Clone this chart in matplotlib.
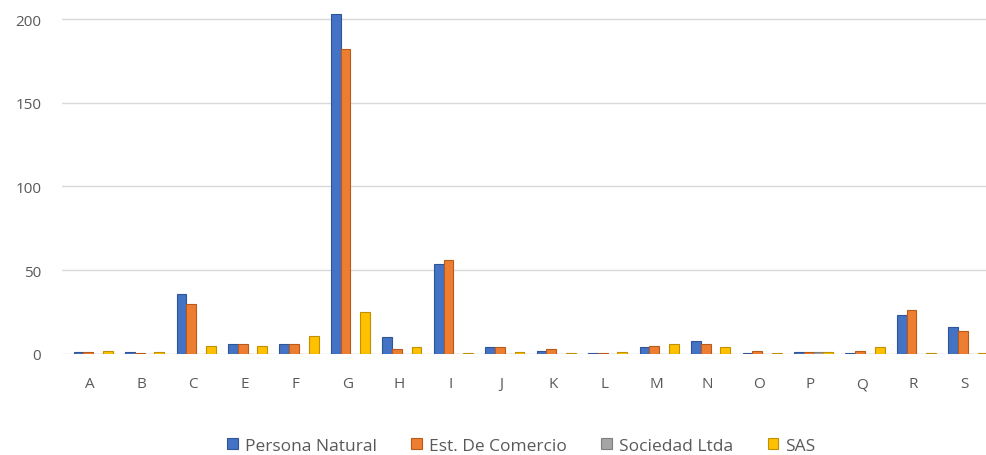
import matplotlib.pyplot as plt
import numpy as np

categories = ['A', 'B', 'C', 'E', 'F', 'G', 'H', 'I', 'J', 'K',
              'L', 'M', 'N', 'O', 'P', 'Q', 'R', 'S']
persona_natural = [1, 1, 36, 6, 6, 203, 10, 54, 4, 2, 0.5, 4, 8, 0.5, 1, 0.5, 23, 16]
est_comercio = [1, 0.5, 30, 6, 6, 182, 3, 56, 4, 3, 0.5, 5, 6, 2, 1, 2, 26, 14]
sociedad_ltda = [0, 0, 0, 0, 0, 0, 0, 0, 0, 0, 0, 0, 0, 0, 1, 0, 0, 0]
sas = [2, 1, 5, 5, 11, 25, 4, 0.5, 1, 0.5, 1, 6, 4, 0.5, 1, 4, 0.5, 0.5]
yticks = [0, 50, 100, 150, 200]

series = [
    ("Persona Natural", persona_natural, "#4472C4", "#2F5597"),
    ("Est. De Comercio", est_comercio, "#ED7D31", "#B85A1B"),
    ("Sociedad Ltda", sociedad_ltda, "#A5A5A5", "#7F7F7F"),
    ("SAS", sas, "#FFC000", "#BF9000"),
]

plt.rcParams['font.family'] = ['Open Sans', 'DejaVu Sans']

fig = plt.figure(figsize=(9.86, 4.56), dpi=100)
ax = fig.add_axes([0.0629, 0.2215, 0.937, 0.753])

x = np.arange(len(categories))
w = 0.19
for i, (name, vals, col, dark) in enumerate(series):
    pos = x + 0.06 + (i - 1.5) * w
    ax.bar(pos, vals, width=w, color=col, edgecolor=dark, linewidth=0.8,
           label=name, zorder=3)

ax.set_xlim(-0.545, 17.41)
ax.set_ylim(0, 205)
ax.set_yticks(yticks)
ax.set_xticks(x)
ax.set_xticklabels(categories)
ax.yaxis.grid(True, color="#D9D9D9", linewidth=1, zorder=0)
for s in ax.spines.values():
    s.set_visible(False)
ax.tick_params(length=0, colors="#595959", labelsize=11)
ax.tick_params(axis='x', pad=16)
ax.tick_params(axis='y', pad=15)

ax.legend(loc='center', bbox_to_anchor=(0.497, -0.268), ncol=4,
          frameon=False, fontsize=12.5, handlelength=0.6, handleheight=0.6,
          columnspacing=2.0, handletextpad=0.4, labelcolor="#595959")

fig.savefig("out.png", dpi=100)
